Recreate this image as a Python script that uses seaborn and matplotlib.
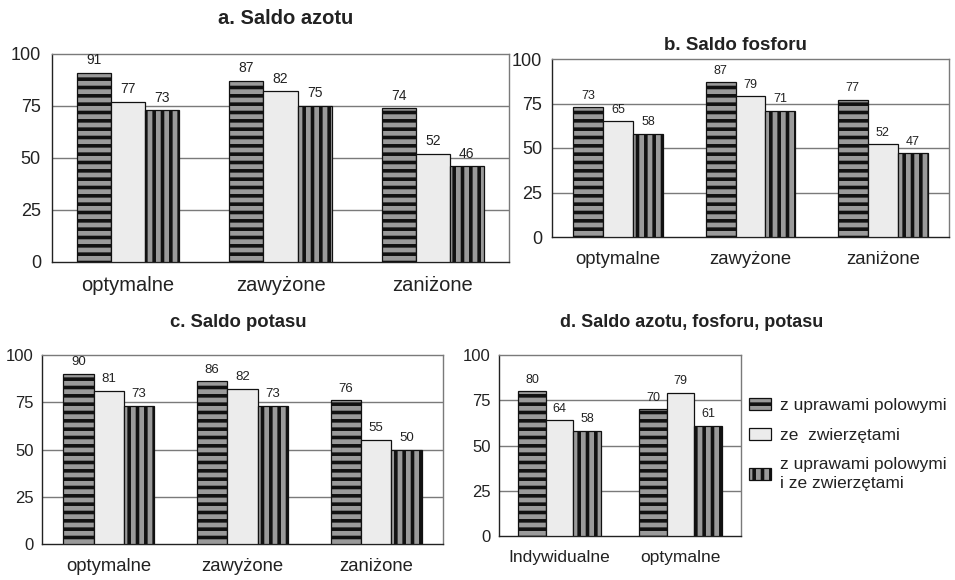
import matplotlib
matplotlib.use("Agg")
import matplotlib.pyplot as plt
import seaborn as sns
import pandas as pd
from matplotlib.patches import Patch

series = ["z uprawami polowymi", "ze  zwierzętami", "z uprawami polowymi\ni ze zwierzętami"]
cats_abc = ["optymalne", "zawyżone", "zaniżone"]
cats_d = ["Indywidualne", "optymalne"]

azot = [[91, 87, 74], [77, 82, 52], [73, 75, 46]]
fosfor = [[73, 87, 77], [65, 79, 52], [58, 71, 47]]
potas = [[90, 86, 76], [81, 82, 55], [73, 73, 50]]
npk = [[80, 70], [64, 79], [58, 61]]

titles = ["a. Saldo azotu", "b. Saldo fosforu", "c. Saldo potasu", "d. Saldo azotu, fosforu, potasu"]
yticks = [0, 25, 50, 75, 100]

sns.set_style("white")
plt.rcParams["font.family"] = ["Liberation Sans", "DejaVu Sans"]
plt.rcParams["hatch.linewidth"] = 2.6
plt.rcParams["hatch.color"] = "black"

face = ["#9a9a9a", "#ececec", "#9a9a9a"]
hatches = ["--", "", "||"]
txt = "#222222"


def to_long(vals, cats):
    rows = []
    for s, row in zip(series, vals):
        for c, v in zip(cats, row):
            rows.append({"cat": c, "series": s, "value": v})
    return pd.DataFrame(rows)


def draw(ax, vals, cats, width, lab_fs, tick_fs, cat_fs, ypad):
    df = to_long(vals, cats)
    sns.barplot(data=df, x="cat", y="value", hue="series", hue_order=series,
                order=cats, width=width, gap=0, ax=ax, legend=False,
                palette=face, edgecolor="#111111", linewidth=0.9, zorder=3)
    for i, cont in enumerate(ax.containers):
        for p in cont:
            p.set_facecolor(face[i])
            p.set_hatch(hatches[i])
        ax.bar_label(cont, labels=[str(v) for v in vals[i]], padding=4,
                     fontsize=lab_fs, color=txt)
    ax.set_ylim(0, 100)
    ax.set_yticks(yticks)
    ax.set_yticklabels([str(t) for t in yticks], fontsize=tick_fs, color=txt)
    ax.set_xlim(-0.5, len(cats) - 0.5)
    ax.set_xticks(range(len(cats)))
    ax.set_xticklabels(cats, fontsize=cat_fs, color=txt)
    ax.set_xticks([k - 0.5 for k in range(len(cats) + 1)], minor=True)
    ax.tick_params(axis="x", which="major", length=0, pad=10)
    ax.tick_params(axis="x", which="minor", length=4, direction="out", color="#333333")
    ax.tick_params(axis="y", length=4, direction="out", color="#333333", pad=ypad)
    for y in [25, 50, 75]:
        ax.axhline(y, color="#7a7a7a", lw=1.0, zorder=1)
    ax.spines["left"].set_color("#222222")
    ax.spines["bottom"].set_color("#222222")
    ax.spines["top"].set_color("#7a7a7a")
    ax.spines["right"].set_color("#7a7a7a")
    for s in ax.spines.values():
        s.set_linewidth(1.0)
    ax.set_xlabel("")
    ax.set_ylabel("")


W, H = 955, 580
fig = plt.figure(figsize=(W / 100, H / 100), dpi=100)


def box(l, t, r, b):
    return [l / W, 1 - b / H, (r - l) / W, (b - t) / H]


ax_a = fig.add_axes(box(52, 54, 509, 262))
ax_b = fig.add_axes(box(552, 59, 949, 237))
ax_c = fig.add_axes(box(42, 355, 443, 544))
ax_d = fig.add_axes(box(499, 355, 741, 536))

draw(ax_a, azot, cats_abc, 0.67, 10, 13, 14.5, 4)
draw(ax_b, fosfor, cats_abc, 0.68, 9, 13, 13.3, 3)
draw(ax_c, potas, cats_abc, 0.68, 9.5, 12, 13.3, 2)
draw(ax_d, npk, cats_d, 0.68, 9, 12, 12.5, 2)

fig.text(286 / W, 1 - 19 / H, titles[0], ha="center", va="center",
         fontsize=14.5, fontweight="bold", color=txt)
fig.text(735 / W, 1 - 45 / H, titles[1], ha="center", va="center",
         fontsize=13.5, fontweight="bold", color=txt)
fig.text(238 / W, 1 - 323 / H, titles[2], ha="center", va="center",
         fontsize=13.3, fontweight="bold", color=txt)
fig.text(692 / W, 1 - 323 / H, titles[3], ha="center", va="center",
         fontsize=13, fontweight="bold", color=txt)

handles = [Patch(facecolor=face[i], hatch=hatches[i], edgecolor="#111111", linewidth=0.9)
           for i in range(3)]
leg = fig.legend(handles, series, loc="upper left", bbox_to_anchor=(733 / W, 1 - 382 / H),
                 frameon=False, fontsize=12.5, handlelength=1.3, handleheight=0.7,
                 labelspacing=0.85, handletextpad=0.5, labelcolor=txt)
leg.get_texts()[2].set_linespacing(1.3)

fig.savefig("out.png", dpi=100)
